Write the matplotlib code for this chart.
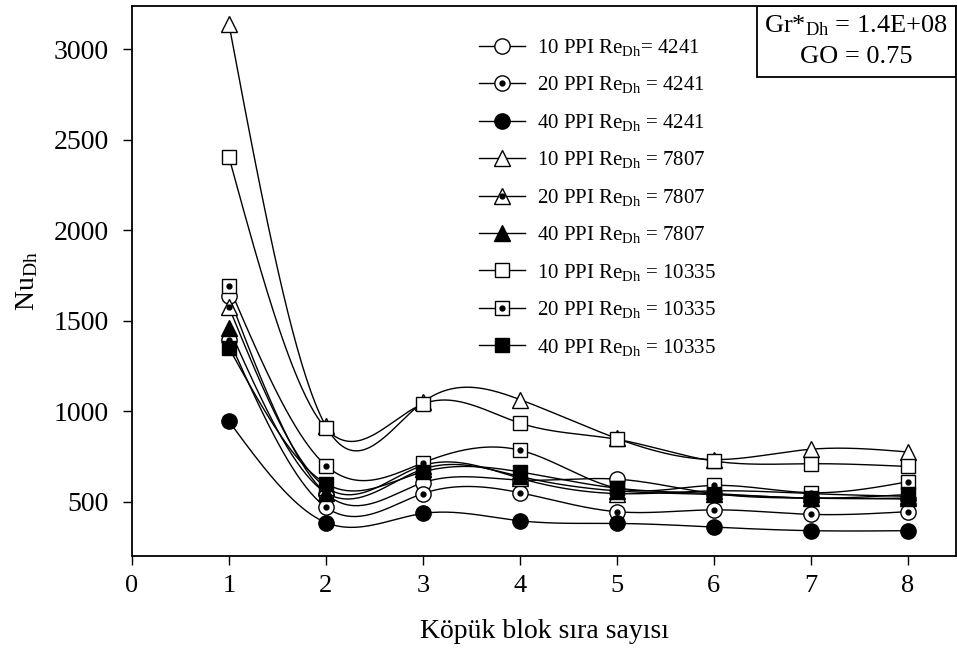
import numpy as np
import matplotlib
matplotlib.use("Agg")
import matplotlib.pyplot as plt
from matplotlib.lines import Line2D
from matplotlib.legend_handler import HandlerTuple
from matplotlib.patches import Rectangle

plt.rcParams['font.family'] = ['Liberation Serif', 'DejaVu Serif']
plt.rcParams['mathtext.fontset'] = 'custom'
plt.rcParams['mathtext.rm'] = 'Liberation Serif'
plt.rcParams['mathtext.it'] = 'Liberation Serif:italic'

# köpük blok sırası
blok = [1, 2, 3, 4, 5, 6, 7, 8]

# Nu_Dh değerleri
nu_10ppi_4241 = [1635, 545, 605, 620, 625, 545, 520, 515]
nu_20ppi_4241 = [1395, 470, 545, 550, 445, 455, 430, 445]
nu_40ppi_4241 = [945, 385, 435, 395, 380, 360, 340, 340]
nu_10ppi_7807 = [3140, 918, 1050, 1065, 850, 733, 790, 775]
nu_20ppi_7807 = [1575, 580, 700, 630, 545, 560, 545, 530]
nu_40ppi_7807 = [1460, 550, 680, 640, 560, 540, 520, 520]
nu_10ppi_10335 = [2405, 905, 1040, 935, 845, 725, 710, 695]
nu_20ppi_10335 = [1690, 700, 715, 785, 575, 590, 550, 610]
nu_40ppi_10335 = [1350, 600, 665, 665, 575, 545, 520, 540]

etiketler = [
    r'10 PPI Re$_{\mathrm{Dh}}$= 4241',
    r'20 PPI Re$_{\mathrm{Dh}}$ = 4241',
    r'40 PPI Re$_{\mathrm{Dh}}$ = 4241',
    r'10 PPI Re$_{\mathrm{Dh}}$ = 7807',
    r'20 PPI Re$_{\mathrm{Dh}}$ = 7807',
    r'40 PPI Re$_{\mathrm{Dh}}$ = 7807',
    r'10 PPI Re$_{\mathrm{Dh}}$ = 10335',
    r'20 PPI Re$_{\mathrm{Dh}}$ = 10335',
    r'40 PPI Re$_{\mathrm{Dh}}$ = 10335',
]

seriler = [nu_10ppi_4241, nu_20ppi_4241, nu_40ppi_4241,
           nu_10ppi_7807, nu_20ppi_7807, nu_40ppi_7807,
           nu_10ppi_10335, nu_20ppi_10335, nu_40ppi_10335]

# (marker, dolgu, ortada nokta var mı)
stiller = [('o', 'white', False), ('o', 'white', True), ('o', 'black', False),
           ('^', 'white', False), ('^', 'white', True), ('^', 'black', False),
           ('s', 'white', False), ('s', 'white', True), ('s', 'black', False)]
boyut = {'o': 11, '^': 11, 's': 10}


def dogal_spline(x, y, n=300):
    # doğal kübik spline, eğriyi yumuşak çizmek için
    x = np.asarray(x, float)
    y = np.asarray(y, float)
    k = len(x)
    h = np.diff(x)
    A = np.zeros((k, k))
    b = np.zeros(k)
    A[0, 0] = 1
    A[-1, -1] = 1
    for i in range(1, k - 1):
        A[i, i - 1] = h[i - 1]
        A[i, i] = 2 * (h[i - 1] + h[i])
        A[i, i + 1] = h[i]
        b[i] = 6 * ((y[i + 1] - y[i]) / h[i] - (y[i] - y[i - 1]) / h[i - 1])
    M = np.linalg.solve(A, b)
    xs = np.linspace(x[0], x[-1], n)
    idx = np.clip(np.searchsorted(x, xs) - 1, 0, k - 2)
    x0, x1 = x[idx], x[idx + 1]
    hh = x1 - x0
    ys = (M[idx] * (x1 - xs) ** 3 / (6 * hh) + M[idx + 1] * (xs - x0) ** 3 / (6 * hh)
          + (y[idx] / hh - M[idx] * hh / 6) * (x1 - xs)
          + (y[idx + 1] / hh - M[idx + 1] * hh / 6) * (xs - x0))
    return xs, ys


fig = plt.figure(figsize=(9.57, 6.55), dpi=100)
ax = fig.add_axes([132 / 957, 1 - 556 / 655, 824 / 957, 550 / 655])

handles = []
for veri, (m, fc, nokta) in zip(seriler, stiller):
    xs, ys = dogal_spline(blok, veri)
    ax.plot(xs, ys, color='black', lw=1.0, zorder=2)
    ax.plot(blok, veri, ls='none', marker=m, ms=boyut[m], mfc=fc, mec='black',
            mew=1.0, zorder=3)
    h = Line2D([], [], color='black', lw=1.0, marker=m, ms=boyut[m], mfc=fc,
               mec='black', mew=1.0)
    if nokta:
        ax.plot(blok, veri, ls='none', marker='o', ms=3.5, color='black', zorder=4)
        d = Line2D([], [], ls='none', marker='o', ms=3.5, color='black')
        handles.append((h, d))
    else:
        handles.append(h)

ax.set_xlim(0, 8.5)
ax.set_ylim(200, 3240)
ax.set_xticks(range(0, 9))
ax.set_yticks([500, 1000, 1500, 2000, 2500, 3000])
ax.tick_params(direction='out', length=6.5, width=1.0,
               top=False, right=False)
ax.tick_params(axis='x', labelsize=19, pad=7)
ax.tick_params(axis='y', labelsize=20, pad=10)
for s in ax.spines.values():
    s.set_linewidth(1.3)

ax.set_xlabel('Köpük blok sıra sayısı', fontsize=20, labelpad=16)
ax.set_ylabel(r'Nu$_{\mathrm{Dh}}$', fontsize=20, labelpad=10)

fig.legend(handles, etiketler, loc='upper left',
           bbox_to_anchor=(479 / 957, 1 - 37 / 655),
           frameon=False, fontsize=15, handlelength=2.2, handletextpad=0.6,
           labelspacing=0.79, borderpad=0, borderaxespad=0,
           handler_map={tuple: HandlerTuple(ndivide=1, pad=0)})

# sağ üst köşedeki kutu
ax.add_patch(Rectangle((0.7585, 0.871), 0.2415, 0.129, transform=ax.transAxes,
                       fill=False, edgecolor='black', lw=1.3, zorder=5))
ax.text(0.879, 0.964, r'Gr*$_{\mathrm{Dh}}$ = 1.4E+08', transform=ax.transAxes,
        ha='center', va='center', fontsize=19)
ax.text(0.879, 0.908, 'GO = 0.75', transform=ax.transAxes,
        ha='center', va='center', fontsize=19)

fig.savefig('out.png', dpi=100)
